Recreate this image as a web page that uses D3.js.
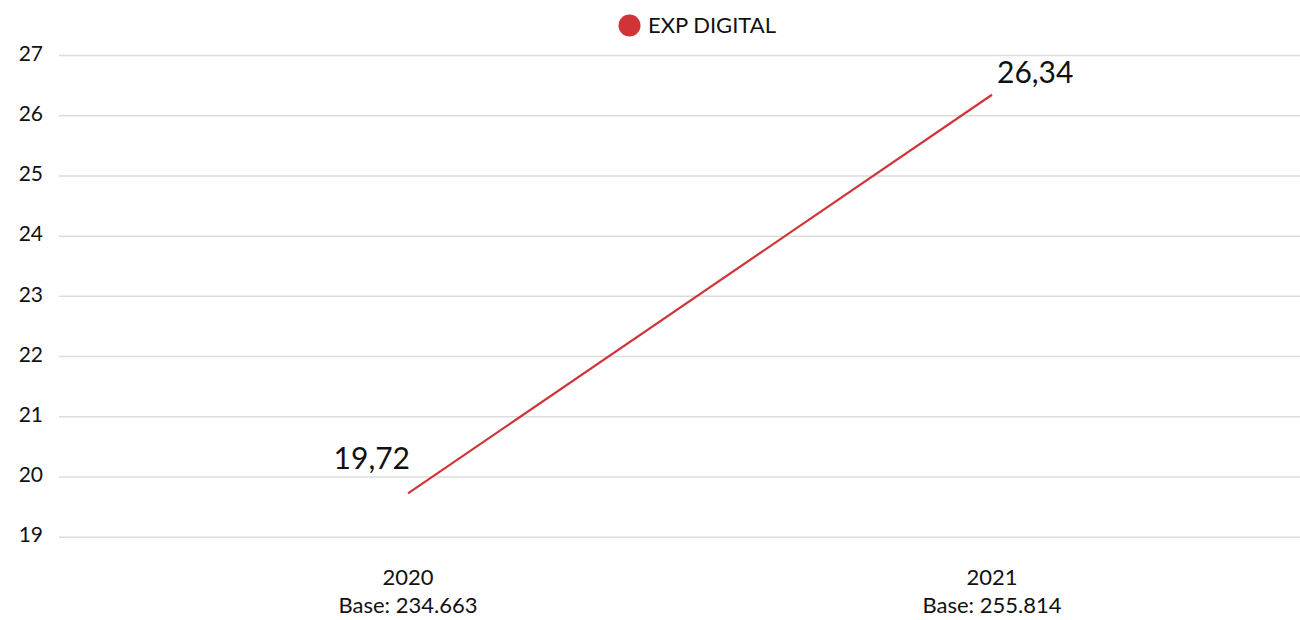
<!DOCTYPE html>
<html>
<head>
<meta charset="utf-8">
<script src="https://cdn.jsdelivr.net/npm/d3@7"></script>
<style>
  body { margin: 0; background: #fff; font-family: Lato, "Noto Sans", sans-serif; }
  .grid line { stroke: #dcdcdc; stroke-width: 1.5; }
  .grid path { display: none; }
</style>
</head>
<body>
<div id="chart"></div>
<script>
var years = ["2020", "2021"];
var bases = ["Base: 234.663", "Base: 255.814"];
var values = [19.72, 26.34];
var valueLabels = ["19,72", "26,34"];
var yTicks = [19, 20, 21, 22, 23, 24, 25, 26, 27];
var seriesName = "EXP DIGITAL";
var lineColor = "#d13438";

var width = 1300, height = 620;
var margin = {top: 55, right: 0, bottom: 81, left: 59};

var svg = d3.select("#chart").append("svg")
    .attr("width", width)
    .attr("height", height);

var x = d3.scalePoint()
    .domain(years)
    .range([408, 992]);

var y = d3.scaleLinear()
    .domain([19, 27])
    .range([height - margin.bottom - 2.3, margin.top]);

// grid lines
svg.append("g")
    .attr("class", "grid")
    .attr("transform", "translate(" + margin.left + ",0)")
    .call(d3.axisRight(y).tickValues(yTicks).tickSize(width - margin.left).tickFormat(""));

// y tick labels
svg.append("g").selectAll("text")
    .data(yTicks)
    .enter().append("text")
    .attr("x", 43)
    .attr("y", function (d) { return y(d); })
    .attr("dy", "0.27em")
    .attr("text-anchor", "end")
    .style("font-size", "21px")
    .attr("fill", "#111")
    .text(function (d) { return d; });

// x labels
var xl = svg.append("g").selectAll("text")
    .data(years)
    .enter().append("text")
    .attr("x", function (d) { return x(d); })
    .attr("y", 585)
    .attr("text-anchor", "middle")
    .style("font-size", "22px")
    .attr("fill", "#111");
xl.append("tspan")
    .attr("x", function (d) { return x(d); })
    .text(function (d) { return d; });
xl.append("tspan")
    .attr("x", function (d) { return x(d); })
    .attr("dy", 28)
    .text(function (d, i) { return bases[i]; });

// line
var pts = years.map(function (d, i) { return {year: d, value: values[i]}; });
svg.append("path")
    .datum(pts)
    .attr("fill", "none")
    .attr("stroke", lineColor)
    .attr("stroke-width", 2.2)
    .attr("d", d3.line()
        .x(function (d) { return x(d.year); })
        .y(function (d) { return y(d.value); }));

// value labels
svg.append("g").selectAll("text")
    .data(pts)
    .enter().append("text")
    .attr("x", function (d, i) { return x(d.year) + (i === 0 ? 2 : 5); })
    .attr("y", function (d, i) { return y(d.value) - (i === 0 ? 24 : 12); })
    .attr("text-anchor", function (d, i) { return i === 0 ? "end" : "start"; })
    .style("font-size", "30px")
    .attr("fill", "#111")
    .text(function (d, i) { return valueLabels[i]; });

// legend
var legend = svg.append("g");
legend.append("circle")
    .attr("cx", 629.5)
    .attr("cy", 25.5)
    .attr("r", 11)
    .attr("fill", lineColor);
legend.append("text")
    .attr("x", 648)
    .attr("y", 33)
    .style("font-size", "22px")
    .attr("fill", "#111")
    .text(seriesName);
</script>
</body>
</html>
